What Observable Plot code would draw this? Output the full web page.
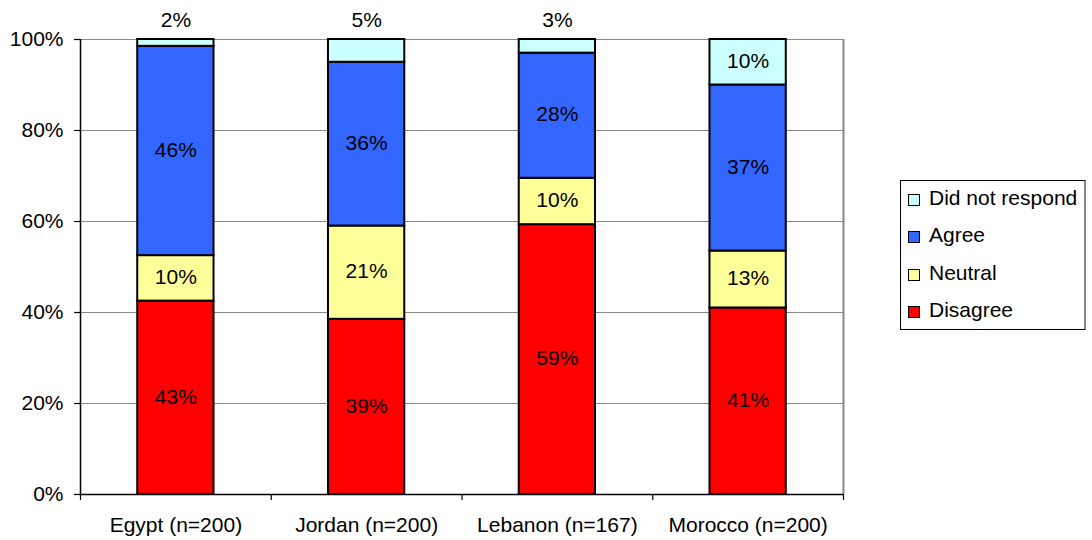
<!DOCTYPE html>
<html>
<head>
<meta charset="utf-8">
<script src="https://cdn.jsdelivr.net/npm/d3@7"></script>
<script src="https://cdn.jsdelivr.net/npm/@observablehq/plot@0.6"></script>
<style>
  html, body { margin: 0; padding: 0; background: #fff; }
  #wrap { position: relative; width: 1092px; height: 540px; font-family: "Liberation Sans", Arial, sans-serif; }
  #legend { position: absolute; left: 900px; top: 180px; width: 186px; height: 150px; border: 1px solid #000; border-right: 2px solid #888; box-sizing: border-box; }
  .item { position: absolute; left: 7px; height: 20px; font-size: 21px; line-height: 20px; color: #000; }
  .sw { position: absolute; left: 0; top: 3px; width: 10px; height: 10px; border: 1px solid #000; }
  .lab { position: absolute; left: 21px; top: -3px; white-space: nowrap; }
</style>
</head>
<body>
<div id="wrap"></div>
<script>
const countries = ["Egypt (n=200)", "Jordan (n=200)", "Lebanon (n=167)", "Morocco (n=200)"];
const seriesNames = ["Disagree", "Neutral", "Agree", "Did not respond"];
const seriesColors = ["#FF0000", "#FFFF99", "#3366FF", "#CCFFFF"];
const disagree = [42.5, 38.5, 59.3, 41.0];
const neutral = [10.0, 20.5, 10.2, 12.5];
const agree = [46.0, 36.0, 27.5, 36.5];
const noResponse = [1.5, 5.0, 3.0, 10.0];
const yTicks = [0, 20, 40, 60, 80, 100];

const seriesValues = [disagree, neutral, agree, noResponse];
const rows = [];
countries.forEach((c, i) => {
  let base = 0;
  seriesValues.forEach((vals, s) => {
    const v = vals[i];
    rows.push({country: c, idx: i, series: seriesNames[s], s, y1: base, y2: base + v, v, label: Math.round(v + 1e-9) + "%"});
    base += v;
  });
});
const inside = rows.filter(r => r.v >= 5 && !(r.s === 3 && r.v < 10));
const above = rows.filter(r => r.s === 3 && r.v < 10);
const catRows = countries.map((c, i) => ({country: c, idx: i}));
const bounds = d3.range(countries.length + 1);

const font = "Liberation Sans, Arial, sans-serif";
const fs = 21;
const chart = Plot.plot({
  width: 1092,
  height: 540,
  marginLeft: 80,
  marginRight: 249,
  marginTop: 39,
  marginBottom: 46,
  style: {fontFamily: font, fontSize: fs + "px", color: "#000", background: "#fff"},
  x: {type: "linear", domain: [0, countries.length], axis: null},
  y: {type: "linear", domain: [0, 100], axis: null},
  color: {domain: seriesNames, range: seriesColors},
  marks: [
    Plot.ruleY(yTicks.filter(t => t > 0), {y: d => d, stroke: "#888", strokeWidth: 1.2}),
    Plot.ruleX([countries.length], {x: d => d, stroke: "#888", strokeWidth: 2}),
    Plot.rect(rows, {x1: d => d.idx + 0.3, x2: d => d.idx + 0.7, y1: "y1", y2: "y2", fill: "series", stroke: "#000", strokeWidth: 2}),
    Plot.ruleX([0], {x: d => d, stroke: "#000", strokeWidth: 1.5}),
    Plot.ruleY([0], {y: d => d, stroke: "#000", strokeWidth: 1.5}),
    Plot.ruleX(bounds, {x: d => d, y1: 0, y2: 0, insetBottom: -6, stroke: "#000", strokeWidth: 1.2}),
    Plot.ruleY(yTicks, {y: d => d, x1: 0, x2: 0, insetLeft: -6, stroke: "#000", strokeWidth: 1.2}),
    Plot.text(yTicks, {x: d => 0, y: d => d, dx: -17, textAnchor: "end", text: d => d + "%", fontSize: fs, fill: "#000"}),
    Plot.text(inside, {x: d => d.idx + 0.5, y: d => (d.y1 + d.y2) / 2, dy: -1, text: "label", fontSize: fs, fill: "#000"}),
    Plot.text(above, {x: d => d.idx + 0.5, y: d => 100, dy: -19, text: "label", fontSize: fs, fill: "#000"}),
    Plot.text(catRows, {x: d => d.idx + 0.5, y: d => 0, dy: 31, text: "country", fontSize: fs, fill: "#000"})
  ]
});
const wrap = document.getElementById("wrap");
wrap.appendChild(chart);

const legend = document.createElement("div");
legend.id = "legend";
const order = [3, 2, 1, 0];
order.forEach((s, k) => {
  const it = document.createElement("div");
  it.className = "item";
  it.style.top = (10 + k * 37.3) + "px";
  const sw = document.createElement("div");
  sw.className = "sw";
  sw.style.background = seriesColors[s];
  const lab = document.createElement("span");
  lab.className = "lab";
  lab.textContent = seriesNames[s];
  it.appendChild(sw); it.appendChild(lab);
  legend.appendChild(it);
});
wrap.appendChild(legend);
</script>
</body>
</html>
